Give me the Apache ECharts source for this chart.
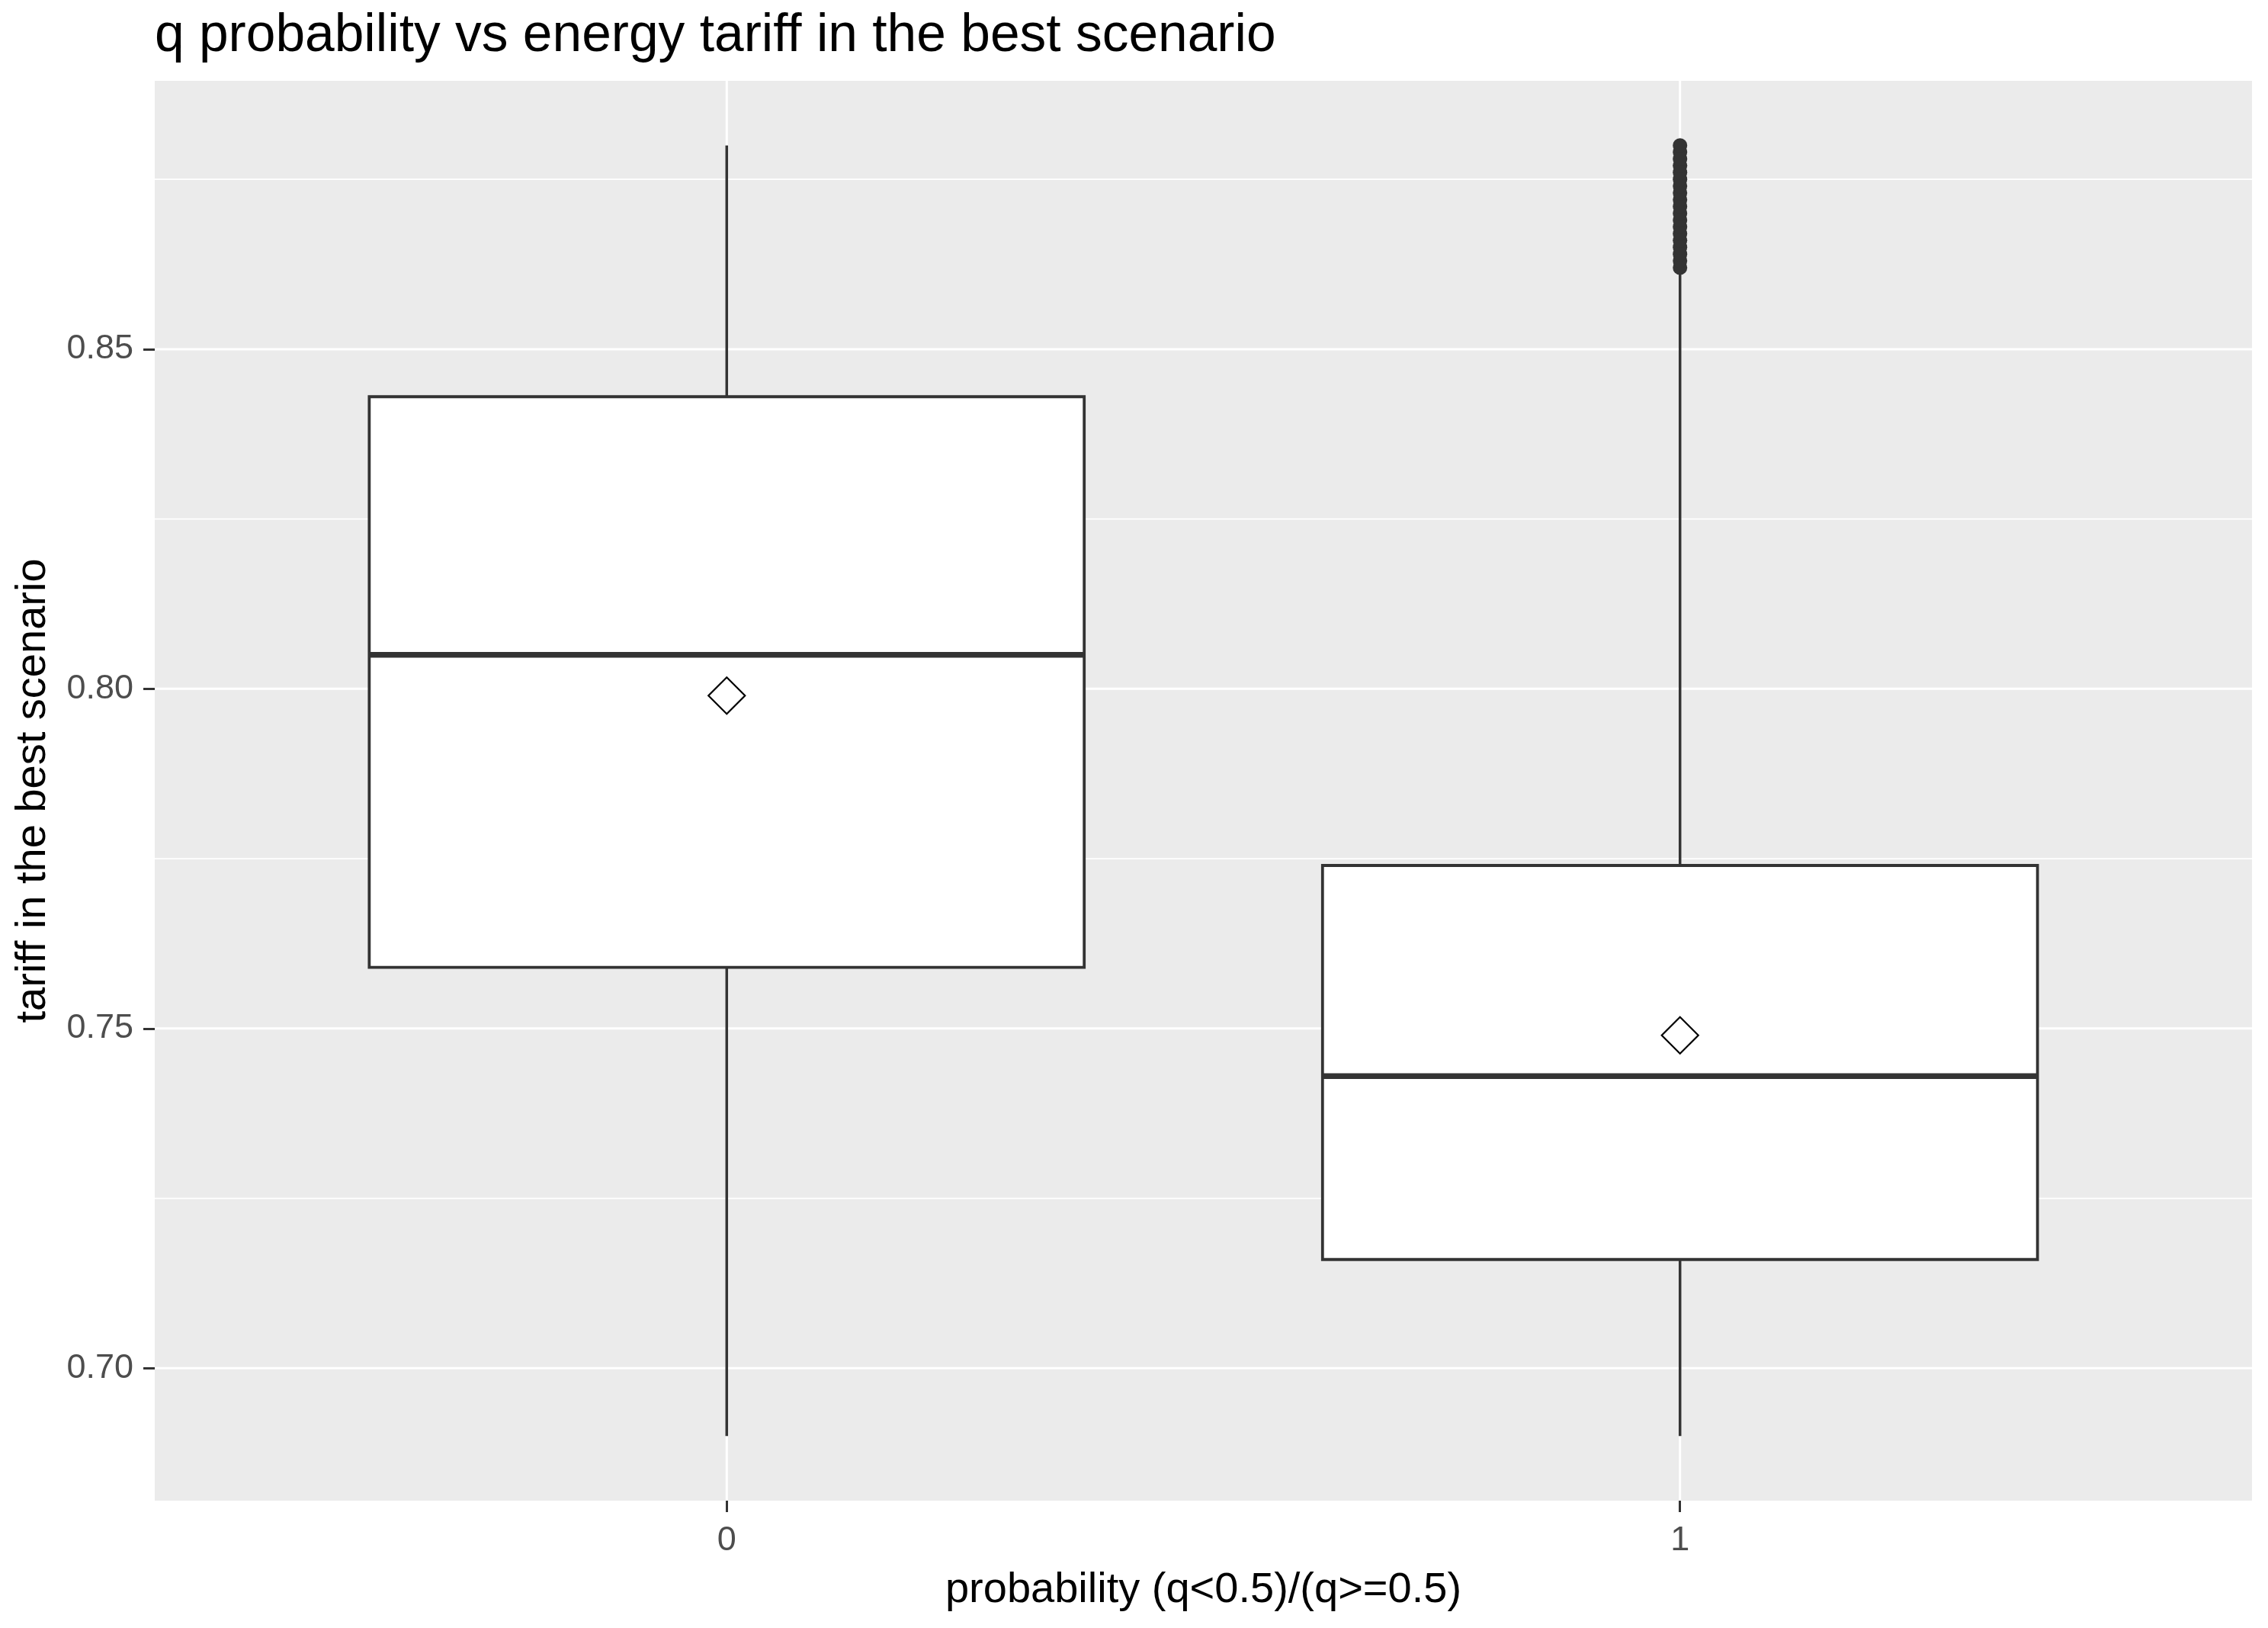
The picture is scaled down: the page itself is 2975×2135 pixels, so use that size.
<!DOCTYPE html>
<html>
<head>
<meta charset="utf-8">
<script src="https://cdn.jsdelivr.net/npm/echarts@6/dist/echarts.min.js"></script>
<style>
html,body{margin:0;padding:0;background:#fff;}
#chart{width:2975px;height:2135px;}
</style>
</head>
<body>
<div id="chart"></div>
<script>
// ---- data ----
const categories = ['0', '1'];
const lowerWhisker = [0.690, 0.690];
const q1 = [0.759, 0.716];
const median = [0.805, 0.743];
const q3 = [0.843, 0.774];
const upperWhisker = [0.880, 0.861];
const means = [0.799, 0.749];
// dense run of outliers above the whisker of category "1"
const outliersCat1 = [0.862, 0.863, 0.864, 0.865, 0.866, 0.867, 0.868, 0.869, 0.870,
  0.871, 0.872, 0.873, 0.874, 0.875, 0.876, 0.877, 0.878, 0.879, 0.880];
const yTicks = [0.70, 0.75, 0.80, 0.85];
const yMinorTicks = [0.725, 0.775, 0.825, 0.875];

const titleText = 'q probability vs energy tariff in the best scenario';
const xTitle = 'probability (q<0.5)/(q>=0.5)';
const yTitle = 'tariff in the best scenario';

// ---- derived ----
const xPos = categories.map((c, i) => i + 1);
const allVals = lowerWhisker.concat(upperWhisker, outliersCat1);
const dMin = Math.min.apply(null, allVals), dMax = Math.max.apply(null, allVals);
const yMin = dMin - 0.05 * (dMax - dMin);
const yMax = dMax + 0.05 * (dMax - dMin);

const boxData = categories.map((c, i) => [xPos[i], lowerWhisker[i], q1[i], median[i], q3[i], upperWhisker[i]]);
const meanData = categories.map((c, i) => [xPos[i], means[i]]);
const outlierData = outliersCat1.map(v => [xPos[1], v]);

const FONT = 'Liberation Sans, Arial, sans-serif';
const INK = '#333333';
const BOX_W = 0.75;

function hLines(width) {
  return function (params, api) {
    const cs = params.coordSys;
    const y = api.coord([1, api.value(0)])[1];
    return { type: 'line', shape: { x1: cs.x, y1: y, x2: cs.x + cs.width, y2: y },
      style: { stroke: '#FFFFFF', lineWidth: width } };
  };
}
function vLines(width) {
  return function (params, api) {
    const cs = params.coordSys;
    const x = api.coord([api.value(0), yMin])[0];
    return { type: 'line', shape: { x1: x, y1: cs.y, x2: x, y2: cs.y + cs.height },
      style: { stroke: '#FFFFFF', lineWidth: width } };
  };
}

const chart = echarts.init(document.getElementById('chart'), null, { renderer: 'canvas' });
chart.setOption({
  animation: false,
  backgroundColor: '#FFFFFF',
  title: {
    text: titleText, left: 203, top: 13, padding: 0,
    textStyle: { fontFamily: FONT, fontSize: 69.5, fontWeight: 'normal', color: '#000000' }
  },
  grid: { left: 203, right: 21, top: 106, bottom: 167, show: true, backgroundColor: '#EBEBEB', borderWidth: 0 },
  xAxis: {
    type: 'value', min: 0.4, max: 2.6,
    axisLine: { show: false },
    splitLine: { show: false },
    axisTick: { show: true, customValues: xPos, length: 15, lineStyle: { color: INK, width: 3 } },
    axisLabel: { customValues: xPos, formatter: v => categories[Math.round(v) - 1], fontFamily: FONT,
      fontSize: 45, color: '#4D4D4D', margin: 30 },
    name: xTitle, nameLocation: 'middle', nameGap: 90,
    nameTextStyle: { fontFamily: FONT, fontSize: 56, color: '#000000' }
  },
  yAxis: {
    type: 'value', min: yMin, max: yMax,
    axisLine: { show: false },
    splitLine: { show: false },
    axisTick: { show: true, customValues: yTicks, length: 15, lineStyle: { color: INK, width: 3 } },
    axisLabel: { customValues: yTicks, formatter: v => v.toFixed(2), fontFamily: FONT,
      fontSize: 45, color: '#4D4D4D', margin: 28 },
    name: yTitle, nameLocation: 'middle', nameGap: 131, nameRotate: 90,
    nameTextStyle: { fontFamily: FONT, fontSize: 56, color: '#000000' }
  },
  series: [
    { type: 'custom', z: 1, silent: true, renderItem: hLines(1.8), data: yMinorTicks.map(v => [v]), encode: { y: 0 } },
    { type: 'custom', z: 1, silent: true, renderItem: hLines(3), data: yTicks.map(v => [v]), encode: { y: 0 } },
    { type: 'custom', z: 1, silent: true, renderItem: vLines(3), data: xPos.map(v => [v]), encode: { x: 0 } },
    {
      type: 'custom', z: 2, silent: true,
      data: boxData,
      encode: { x: 0, y: [1, 2, 3, 4, 5] },
      renderItem: function (params, api) {
        const x = api.value(0);
        const pLw = api.coord([x, api.value(1)]);
        const pQ1 = api.coord([x, api.value(2)]);
        const pMed = api.coord([x, api.value(3)]);
        const pQ3 = api.coord([x, api.value(4)]);
        const pUw = api.coord([x, api.value(5)]);
        const w = api.size([BOX_W, 0])[0];
        const cx = pMed[0];
        return {
          type: 'group',
          children: [
            { type: 'line', shape: { x1: cx, y1: pUw[1], x2: cx, y2: pQ3[1] }, style: { stroke: INK, lineWidth: 3.5 } },
            { type: 'line', shape: { x1: cx, y1: pQ1[1], x2: cx, y2: pLw[1] }, style: { stroke: INK, lineWidth: 3.5 } },
            { type: 'rect', shape: { x: cx - w / 2, y: pQ3[1], width: w, height: pQ1[1] - pQ3[1] },
              style: { fill: '#FFFFFF', stroke: INK, lineWidth: 3.8 } },
            { type: 'line', shape: { x1: cx - w / 2, y1: pMed[1], x2: cx + w / 2, y2: pMed[1] },
              style: { stroke: INK, lineWidth: 7.5 } }
          ]
        };
      }
    },
    {
      type: 'scatter', z: 3, silent: true, data: outlierData,
      symbol: 'circle', symbolSize: 19, itemStyle: { color: INK, opacity: 1 }
    },
    {
      type: 'scatter', z: 4, silent: true, data: meanData,
      symbol: 'diamond', symbolSize: [48, 48],
      itemStyle: { color: '#FFFFFF', borderColor: '#000000', borderWidth: 2.2, opacity: 1 }
    }
  ]
});
</script>
</body>
</html>
